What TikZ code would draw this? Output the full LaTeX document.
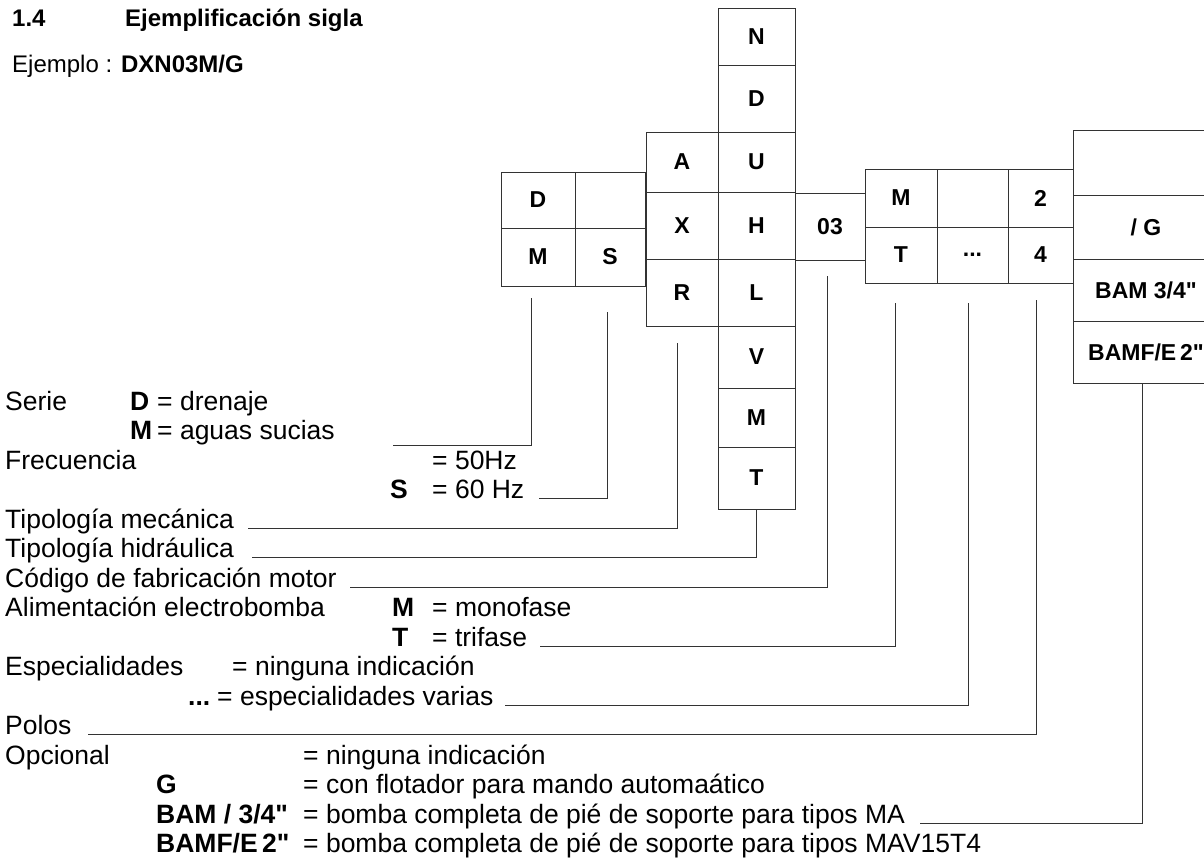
\documentclass[tikz,border=0pt]{standalone}
\usepackage{fontspec}
\setmainfont{Liberation Sans}
\usetikzlibrary{positioning}
\newcommand{\inchmark}{\XeTeXglyph\XeTeXcharglyph"22\relax}

\begin{document}
\begin{tikzpicture}[
    x=1pt, y=-1pt,
    cell/.style={rectangle, draw=black!80, line width=0.8pt, inner sep=0pt, font=\fontsize{23}{26}\selectfont\bfseries},
    legend/.style={anchor=base west, inner sep=0pt, font=\fontsize{26.5}{30}\selectfont},
    key/.style={anchor=base west, inner sep=0pt, font=\fontsize{26.5}{30}\selectfont\bfseries},
    conn/.style={draw=black!80, line width=0.8pt}
]
\useasboundingbox (0,0) rectangle (1204,859);
\clip (0,0) rectangle (1204,859);

% ============== HEADER ==============
\node[key, font=\fontsize{24}{28}\selectfont\bfseries] (secNum) at (12,27) {1.4};
\node[key, font=\fontsize{24}{28}\selectfont\bfseries] (secTitle) at (125,27) {Ejemplificación sigla};
\node[legend, font=\fontsize{24}{28}\selectfont] (example) at (12,72) {Ejemplo : \textbf{DXN03M/G}};

% ============== CODE CELLS: SERIE / FRECUENCIA ==============
\node[cell, minimum width=74pt, minimum height=56pt] (cD) at (538,200) {D};
\node[cell, minimum width=70pt, minimum height=56pt] (cDx) at (610,200) {};
\node[cell, minimum width=74pt, minimum height=58pt] (cM) at (538,257) {M};
\node[cell, minimum width=70pt, minimum height=58pt] (cS) at (610,257) {S};

% ============== CODE CELLS: TIPOLOGIA MECANICA ==============
\node[cell, minimum width=72pt, minimum height=60pt] (cA) at (682,162) {A};
\node[cell, minimum width=72pt, minimum height=67pt] (cX) at (682,225.5) {X};
\node[cell, minimum width=72pt, minimum height=67pt] (cR) at (682,292.5) {R};

% ============== CODE CELLS: TIPOLOGIA HIDRAULICA ==============
\node[cell, minimum width=77pt, minimum height=57pt] (cN) at (756.5,36.5) {N};
\node[cell, minimum width=77pt, minimum height=67pt] (cDh) at (756.5,98.5) {D};
\node[cell, minimum width=77pt, minimum height=60pt] (cU) at (756.5,162) {U};
\node[cell, minimum width=77pt, minimum height=67pt] (cH) at (756.5,225.5) {H};
\node[cell, minimum width=77pt, minimum height=67pt] (cL) at (756.5,292.5) {L};
\node[cell, minimum width=77pt, minimum height=62pt] (cV) at (756.5,357) {V};
\node[cell, minimum width=77pt, minimum height=59pt] (cMh) at (756.5,417.5) {M};
\node[cell, minimum width=77pt, minimum height=62pt] (cT) at (756.5,478) {T};

% ============== CODE CELLS: MOTOR, ALIMENTACION, ESPECIALIDADES, POLOS ==============
\node[cell, minimum width=70pt, minimum height=67pt] (c03) at (830,226.5) {03};
\node[cell, minimum width=72pt, minimum height=58pt] (cM2) at (901,198) {M};
\node[cell, minimum width=71pt, minimum height=58pt] (cE2) at (972.5,198) {};
\node[cell, minimum width=65pt, minimum height=58pt] (c2) at (1040.5,198) {2};
\node[cell, minimum width=72pt, minimum height=56pt] (cT2) at (901,255) {T};
\node[cell, minimum width=71pt, minimum height=56pt] (cDots) at (972.5,255) {...};
\node[cell, minimum width=65pt, minimum height=56pt] (c4) at (1040.5,255) {4};

% ============== CODE CELLS: OPCIONAL ==============
\node[cell, minimum width=146pt, minimum height=65pt] (cOx) at (1146,162.5) {};
\node[cell, minimum width=146pt, minimum height=64pt] (cG) at (1146,227) {/ G};
\node[cell, minimum width=146pt, minimum height=62pt] (cBam) at (1146,290) {BAM 3/4\inchmark};
\node[cell, minimum width=146pt, minimum height=62pt] (cBamf) at (1146,352) {BAMF/E\,2\inchmark};

% ============== LEGEND ==============
\node[legend] (tSerie) at (5,410) {Serie};
\node[key] (kD) at (130,410) {D};
\node[legend] (tDren) at (157,410) {= drenaje};
\node[key] (kM) at (130,439.5) {M};
\node[legend] (tAguas) at (157,439.5) {= aguas sucias};
\node[legend] (tFrec) at (5,469) {Frecuencia};
\node[legend] (t50) at (432,469) {= 50Hz};
\node[key] (kS) at (390,498.5) {S};
\node[legend] (t60) at (432,498.5) {= 60 Hz};
\node[legend] (tMec) at (5,528) {Tipología mecánica};
\node[legend] (tHid) at (5,557.5) {Tipología hidráulica};
\node[legend] (tCod) at (5,587) {Código de fabricación motor};
\node[legend] (tAli) at (5,616.5) {Alimentación electrobomba};
\node[key] (kM2) at (392,616.5) {M};
\node[legend] (tMono) at (432,616.5) {= monofase};
\node[key] (kT2) at (392,646) {T};
\node[legend] (tTri) at (432,646) {= trifase};
\node[legend] (tEsp) at (5,675.5) {Especialidades};
\node[legend] (tNing) at (232,675.5) {= ninguna indicación};
\node[key] (kDots) at (188,705) {...};
\node[legend] (tVar) at (217,705) {= especialidades varias};
\node[legend] (tPol) at (5,734.5) {Polos};
\node[legend] (tOpc) at (5,764) {Opcional};
\node[legend] (tNing2) at (303,764) {= ninguna indicación};
\node[key] (kG) at (156,793.5) {G};
\node[legend] (tFlot) at (303,793.5) {= con flotador para mando automaático};
\node[key] (kBam) at (156,823) {BAM / 3/4\inchmark};
\node[legend] (tBam) at (303,823) {= bomba completa de pié de soporte para tipos MA};
\node[key] (kBamf) at (156,852.5) {BAMF/E\,2\inchmark};
\node[legend] (tBamf) at (303,852.5) {= bomba completa de pié de soporte para tipos MAV15T4};

% ============== CONNECTOR ENDS ==============
\coordinate (serieEnd) at (393,445);
\coordinate (frecEnd) at (539,498);
\coordinate (mecEnd) at (248,528);
\coordinate (hidEnd) at (252,557.5);
\coordinate (codEnd) at (350,587);
\coordinate (aliEnd) at (540,646);
\coordinate (espEnd) at (505,705);
\coordinate (polEnd) at (88,734.5);
\coordinate (opcEnd) at (920,823);

% ============== CONNECTORS ==============
% Serie
\draw[conn] ([xshift=-7pt,yshift=-12pt]cM.south) |- (serieEnd);
% Frecuencia
\draw[conn] ([xshift=-3pt,yshift=-26pt]cS.south) |- (frecEnd);
% Tipologia mecanica
\draw[conn] ([xshift=-5pt,yshift=-17pt]cR.south) |- (mecEnd);
% Tipologia hidraulica
\draw[conn] (cT.south) |- (hidEnd);
% Codigo motor
\draw[conn] ([xshift=-3pt,yshift=-16pt]c03.south) |- (codEnd);
% Alimentacion
\draw[conn] ([xshift=-6pt,yshift=-20pt]cT2.south) |- (aliEnd);
% Especialidades
\draw[conn] ([xshift=-4pt,yshift=-20pt]cDots.south) |- (espEnd);
% Polos
\draw[conn] ([xshift=-4pt,yshift=-17pt]c4.south) |- (polEnd);
% Opcional
\draw[conn] ([xshift=-4pt]cBamf.south) |- (opcEnd);

\end{tikzpicture}
\end{document}
